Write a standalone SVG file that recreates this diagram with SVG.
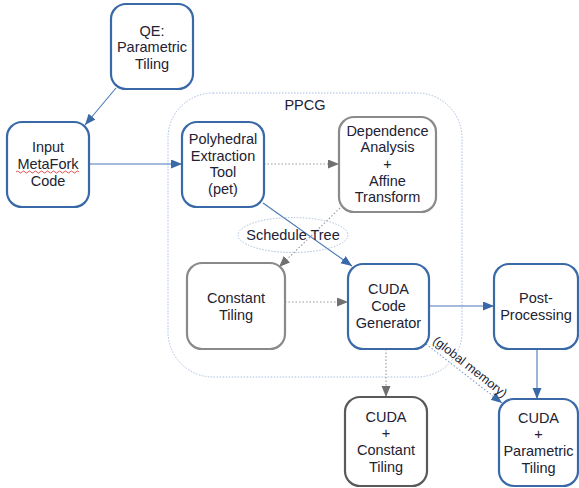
<svg xmlns="http://www.w3.org/2000/svg" width="579" height="488" viewBox="0 0 579 488">
<defs>
<style>
.box{fill:#fff;stroke-width:2.2}
.blue{stroke:#3a69a8}
.gray{stroke:#8a8a8a}
.dark{stroke:#5a5a5a}
text{font-family:"Liberation Sans",Arial,sans-serif;font-size:14.5px;fill:#222233;text-anchor:middle}
.c{fill:none;stroke-width:1.1}
.cb{stroke:#4a78b8}
.cg{stroke:#999;stroke-dasharray:1.5 2}
.cd{stroke:#7f9fcf;stroke-dasharray:1.5 2}
</style>
<marker id="ab" markerUnits="userSpaceOnUse" markerWidth="12" markerHeight="10" refX="11" refY="4.5" orient="auto"><path d="M0,0 L11,4.5 L0,9 z" fill="#3a69a8"/></marker>
<marker id="ag" markerUnits="userSpaceOnUse" markerWidth="12" markerHeight="10" refX="11" refY="4.5" orient="auto"><path d="M0,0 L11,4.5 L0,9 z" fill="#707070"/></marker>
</defs>
<rect width="579" height="488" fill="#fff"/>
<g id="ppcg">
<rect x="168" y="93" width="294" height="284" rx="45" fill="none" stroke="#a9bede" stroke-width="1" stroke-dasharray="1.5 1.5"/>
<text x="305" y="110">PPCG</text>
</g>
<g id="connectors">
<line class="c cb" x1="116" y1="88" x2="85" y2="125" marker-end="url(#ab)"/>
<line class="c cb" x1="89" y1="164" x2="182" y2="164" marker-end="url(#ab)"/>
<line class="c cg" x1="264" y1="164" x2="339" y2="164" marker-end="url(#ag)"/>
<line class="c cb" x1="263" y1="203" x2="352" y2="266" marker-end="url(#ab)"/>
<line class="c cg" x1="340" y1="208" x2="279" y2="267" marker-end="url(#ag)"/>
<line class="c cg" x1="285" y1="302" x2="348" y2="302" marker-end="url(#ag)"/>
<line class="c cb" x1="429" y1="306" x2="494" y2="306" marker-end="url(#ab)"/>
<line class="c cb" x1="537" y1="349" x2="537" y2="399" marker-end="url(#ab)"/>
<line class="c cg" x1="386" y1="349" x2="386" y2="397" marker-end="url(#ag)"/>
<line class="c cd" x1="426" y1="344" x2="502" y2="403" marker-end="url(#ab)"/>
<text transform="translate(470,367) rotate(38.3)" y="4" style="font-size:12.5px">(global memory)</text>
</g>
<g id="schedule-tree">
<ellipse cx="293" cy="235" rx="55" ry="17.5" fill="none" stroke="#a9bede" stroke-width="1" stroke-dasharray="1.5 1.5"/>
<text x="293" y="240">Schedule Tree</text>
</g>
<g id="qe">
<rect class="box blue" x="111" y="4" width="82" height="85" rx="15"/>
<text x="152" y="35.5">QE:</text>
<text x="152" y="52.2">Parametric</text>
<text x="152" y="68.9">Tiling</text>
</g>
<g id="input">
<rect class="box blue" x="7" y="122" width="82" height="85" rx="15"/>
<text x="48" y="152.3">Input</text>
<text x="48" y="169">MetaFork</text>
<text x="48" y="185.7">Code</text>
<path d="M16,172 q1.5,-2 3,0 t3,0 t3,0 t3,0 t3,0 t3,0 t3,0 t3,0 t3,0 t3,0 t3,0 t3,0 t3,0 t3,0 t3,0 t3,0 t3,0 t3,0 t3,0 t3,0 t3,0" fill="none" stroke="#e04040" stroke-width="0.9"/>
</g>
<g id="pet">
<rect class="box blue" x="182" y="122" width="82" height="85" rx="15"/>
<text x="223" y="144">Polyhedral</text>
<text x="223" y="160.7">Extraction</text>
<text x="223" y="177.4">Tool</text>
<text x="223" y="194.1">(pet)</text>
</g>
<g id="dependence">
<rect class="box gray" x="339" y="117" width="97" height="95" rx="15"/>
<text x="387.5" y="135.5">Dependence</text>
<text x="387.5" y="152.2">Analysis</text>
<text x="387.5" y="168.9">+</text>
<text x="387.5" y="185.6">Affine</text>
<text x="387.5" y="202.3">Transform</text>
</g>
<g id="constant-tiling">
<rect class="box gray" x="187" y="263" width="98" height="86" rx="15"/>
<text x="236" y="303">Constant</text>
<text x="236" y="319.7">Tiling</text>
</g>
<g id="cuda-gen">
<rect class="box blue" x="348" y="264" width="81" height="85" rx="15"/>
<text x="388.5" y="294.3">CUDA</text>
<text x="388.5" y="311">Code</text>
<text x="388.5" y="327.7">Generator</text>
</g>
<g id="post">
<rect class="box blue" x="494" y="264" width="84" height="85" rx="15"/>
<text x="536" y="303">Post-</text>
<text x="536" y="319.7">Processing</text>
</g>
<g id="cuda-const">
<rect class="box dark" x="345" y="397" width="82" height="89" rx="15"/>
<text x="386" y="421.5">CUDA</text>
<text x="386" y="438.2">+</text>
<text x="386" y="454.9">Constant</text>
<text x="386" y="471.6">Tiling</text>
</g>
<g id="cuda-param">
<rect class="box blue" x="499" y="399" width="79" height="87" rx="15"/>
<text x="538.5" y="422.5">CUDA</text>
<text x="538.5" y="439.2">+</text>
<text x="538.5" y="455.9">Parametric</text>
<text x="538.5" y="472.6">Tiling</text>
</g>
</svg>
